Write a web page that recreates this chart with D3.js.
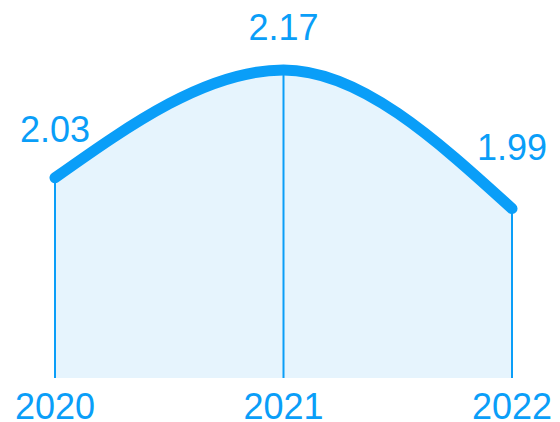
<!DOCTYPE html>
<html>
<head>
<meta charset="utf-8">
<script src="https://cdn.jsdelivr.net/npm/d3@7"></script>
<style>
  body { margin: 0; background: #fff; }
  svg { display: block; }
</style>
</head>
<body>
<div id="chart"></div>
<script>
const years = ["2020", "2021", "2022"];
const values = [2.03, 2.17, 1.99];

const width = 560, height = 422;
const margin = { top: 70, right: 48, bottom: 44, left: 55 };
const blue = "#0a9ef8";
const fillBlue = "#e6f4fd";

const data = years.map((y, i) => ({ year: y, value: values[i] }));

const svg = d3.select("#chart").append("svg")
    .attr("width", width)
    .attr("height", height)
    .style("font-family", "'Liberation Sans', Arial, sans-serif");

const x = d3.scalePoint()
    .domain(years)
    .range([margin.left, width - margin.right]);

const y = d3.scaleLinear()
    .domain([1.77, d3.max(values)])
    .range([height - margin.bottom, margin.top]);

const baseY = y(1.77);

const area = d3.area()
    .x(d => x(d.year))
    .y0(baseY)
    .y1(d => y(d.value))
    .curve(d3.curveMonotoneX);

const line = d3.line()
    .x(d => x(d.year))
    .y(d => y(d.value))
    .curve(d3.curveMonotoneX);

svg.append("path")
    .datum(data)
    .attr("d", area)
    .attr("fill", fillBlue);

svg.selectAll(".drop")
    .data(data)
    .enter()
    .append("line")
    .attr("class", "drop")
    .attr("x1", d => x(d.year))
    .attr("x2", d => x(d.year))
    .attr("y1", d => y(d.value))
    .attr("y2", baseY)
    .attr("stroke", blue)
    .attr("stroke-width", 2);

const linePath = svg.append("path")
    .datum(data)
    .attr("d", line)
    .attr("fill", "none")
    .attr("stroke", blue)
    .attr("stroke-width", 11)
    .attr("stroke-linecap", "round")
    .attr("stroke-linejoin", "round");

// local slope of the drawn curve at an x position, used to lift labels off steep parts
const node = linePath.node();
const total = node.getTotalLength();
const samples = d3.range(0, total, 1).map(l => node.getPointAtLength(l));
function slopeAt(px) {
    const a = samples.filter(p => Math.abs(p.x - px) < 12);
    const p0 = a[0], p1 = a[a.length - 1];
    return Math.abs((p1.y - p0.y) / (p1.x - p0.x));
}

svg.selectAll(".value")
    .data(data)
    .enter()
    .append("text")
    .attr("class", "value")
    .attr("x", d => x(d.year))
    .attr("y", d => y(d.value) - 30 - 30 * Math.pow(slopeAt(x(d.year)), 5))
    .attr("text-anchor", "middle")
    .attr("fill", blue)
    .style("font-size", "36px")
    .text(d => d.value.toFixed(2));

svg.selectAll(".year")
    .data(data)
    .enter()
    .append("text")
    .attr("class", "year")
    .attr("x", d => x(d.year))
    .attr("y", height - 3)
    .attr("text-anchor", "middle")
    .attr("fill", blue)
    .style("font-size", "36px")
    .text(d => d.year);
</script>
</body>
</html>
